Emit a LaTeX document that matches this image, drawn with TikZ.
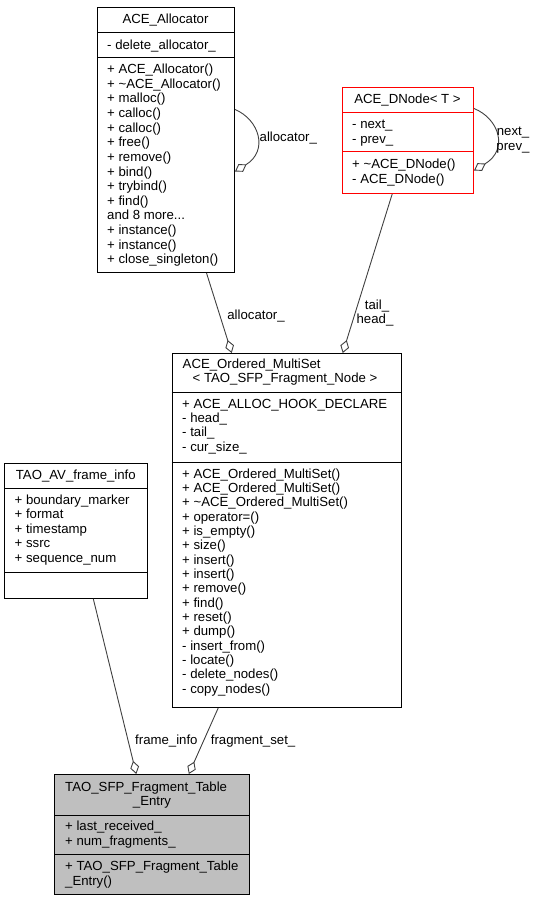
\documentclass[tikz,border=0pt]{standalone}
\usepackage{fontspec}
\setmainfont{Liberation Sans}
\usetikzlibrary{arrows.meta}
\definecolor{edgegray}{HTML}{404040}
\definecolor{entryfill}{HTML}{BFBFBF}
\newcommand\mydotsx{...}
\begin{document}
\begin{tikzpicture}[x=1pt,y=-1pt,
  box/.style={draw=black, line width=1pt, fill=white, inner sep=0pt, anchor=north west},
  sepline/.style={draw=black, line width=1pt},
  lbl/.style={font=\fontsize{13.2}{15}\selectfont, inner sep=0pt, anchor=base west},
  ttl/.style={font=\fontsize{13.2}{15}\selectfont, inner sep=0pt, anchor=base},
  edge/.style={draw=edgegray, line width=0.9pt, -{Diamond[open, fill=white, length=13.5pt, width=9pt]}}
]
\useasboundingbox (0,0) rectangle (540,901);

% ---------- ACE_Allocator ----------
\node[box, minimum width=137pt, minimum height=265pt] (alloc) at (97,7) {};
\draw[sepline] (alloc.west |- 0,32.3) -- (alloc.east |- 0,32.3);
\draw[sepline] (alloc.west |- 0,57.3) -- (alloc.east |- 0,57.3);
\node[ttl] (alloc-t) at (165.5,23.3) {ACE\_Allocator};
\node[lbl] (alloc-a) at (107,49.3) {- delete\_allocator\_};
\foreach \t [count=\i from 0] in {{+ ACE\_Allocator()},{+ \textasciitilde ACE\_Allocator()},{+ malloc()},{+ calloc()},{+ calloc()},{+ free()},{+ remove()},{+ bind()},{+ trybind()},{+ find()},{and 8 more\mydotsx},{+ instance()},{+ instance()},{+ close\_singleton()}}
  \node[lbl] (alloc-m\i) at (107,73.5+\i*14.65) {\t};

% ---------- ACE_DNode ----------
\node[box, draw=red, minimum width=131pt, minimum height=106pt] (dnode) at (342,87) {};
\draw[sepline, draw=red] (dnode.west |- 0,113) -- (dnode.east |- 0,113);
\draw[sepline, draw=red] (dnode.west |- 0,152) -- (dnode.east |- 0,152);
\node[ttl] (dnode-t) at (407.5,104) {ACE\_DNode< T >};
\node[lbl] (dnode-a0) at (352,129) {- next\_};
\node[lbl] (dnode-a1) at (352,144) {- prev\_};
\node[lbl] (dnode-m0) at (352,169) {+ \textasciitilde ACE\_DNode()};
\node[lbl] (dnode-m1) at (352,183.5) {- ACE\_DNode()};

% ---------- ACE_Ordered_MultiSet ----------
\node[box, minimum width=229pt, minimum height=354pt] (mset) at (171.7,353) {};
\draw[sepline] (mset.west |- 0,392.7) -- (mset.east |- 0,392.7);
\draw[sepline] (mset.west |- 0,462.3) -- (mset.east |- 0,462.3);
\node[lbl] (mset-t1) at (182.5,368.3) {ACE\_Ordered\_MultiSet};
\node[ttl] (mset-t2) at (285,382.3) {< TAO\_SFP\_Fragment\_Node >};
\foreach \t [count=\i from 0] in {{+ ACE\_ALLOC\_HOOK\_DECLARE},{- head\_},{- tail\_},{- cur\_size\_}}
  \node[lbl] (mset-a\i) at (182,408.3+\i*14.3) {\t};
\foreach \t [count=\i from 0] in {{+ ACE\_Ordered\_MultiSet()},{+ ACE\_Ordered\_MultiSet()},{+ \textasciitilde ACE\_Ordered\_MultiSet()},{+ operator=()},{+ is\_empty()},{+ size()},{+ insert()},{+ insert()},{+ remove()},{+ find()},{+ reset()},{+ dump()},{- insert\_from()},{- locate()},{- delete\_nodes()},{- copy\_nodes()}}
  \node[lbl] (mset-m\i) at (182,478.3+\i*14.33) {\t};

% ---------- TAO_AV_frame_info ----------
\node[box, minimum width=143pt, minimum height=134.5pt] (finfo) at (4.3,463.3) {};
\draw[sepline] (finfo.west |- 0,488.3) -- (finfo.east |- 0,488.3);
\draw[sepline] (finfo.west |- 0,572.3) -- (finfo.east |- 0,572.3);
\node[ttl] (finfo-t) at (75.8,479) {TAO\_AV\_frame\_info};
\foreach \t [count=\i from 0] in {{+ boundary\_marker},{+ format},{+ timestamp},{+ ssrc},{+ sequence\_num}}
  \node[lbl] (finfo-a\i) at (14.5,504.3+\i*14.5) {\t};

% ---------- TAO_SFP_Fragment_Table_Entry ----------
\node[box, fill=entryfill, minimum width=195pt, minimum height=120pt] (entry) at (54.3,774) {};
\draw[sepline] (entry.west |- 0,815) -- (entry.east |- 0,815);
\draw[sepline] (entry.west |- 0,854.3) -- (entry.east |- 0,854.3);
\node[lbl] (entry-t1) at (65,791.5) {TAO\_SFP\_Fragment\_Table};
\node[ttl] (entry-t2) at (152,805) {\_Entry};
\node[lbl] (entry-a0) at (65,830.7) {+ last\_received\_};
\node[lbl] (entry-a1) at (65,845.5) {+ num\_fragments\_};
\node[lbl] (entry-m0) at (65,870) {+ TAO\_SFP\_Fragment\_Table};
\node[lbl] (entry-m1) at (65,885) {\_Entry()};

% ---------- connectors ----------
\draw[edge] ([yshift=30.5pt]alloc.east) .. controls +(24,10) and +(34,-21) .. ([yshift=-31.5pt]alloc.east);
\node[lbl] (lab-alloc-self) at (259.5,141.7) {allocator\_};

\draw[edge] ([yshift=32pt]dnode.east) .. controls +(25,10) and +(35,-21) .. ([yshift=-30pt]dnode.east);
\node[ttl] (lab-next) at (513,136) {next\_};
\node[ttl] (lab-prev) at (513,151) {prev\_};

\draw[edge] ([xshift=40.5pt]alloc.south) -- ([xshift=-55pt]mset.north);
\node[ttl] (lab-alloc) at (256,319) {allocator\_};

\draw[edge] ([xshift=-15.8pt]dnode.south) -- ([xshift=56pt]mset.north);
\node[ttl] (lab-tail) at (377,309) {tail\_};
\node[ttl] (lab-head) at (375,323.5) {head\_};

\draw[edge] ([xshift=17pt]finfo.south) -- ([xshift=-16pt]entry.north);
\node[lbl] (lab-finfo) at (135,744.5) {frame\_info};

\draw[edge] ([xshift=-68.5pt]mset.south) -- ([xshift=36.5pt]entry.north);
\node[lbl] (lab-frag) at (210.7,744.5) {fragment\_set\_};
\end{tikzpicture}
\end{document}
